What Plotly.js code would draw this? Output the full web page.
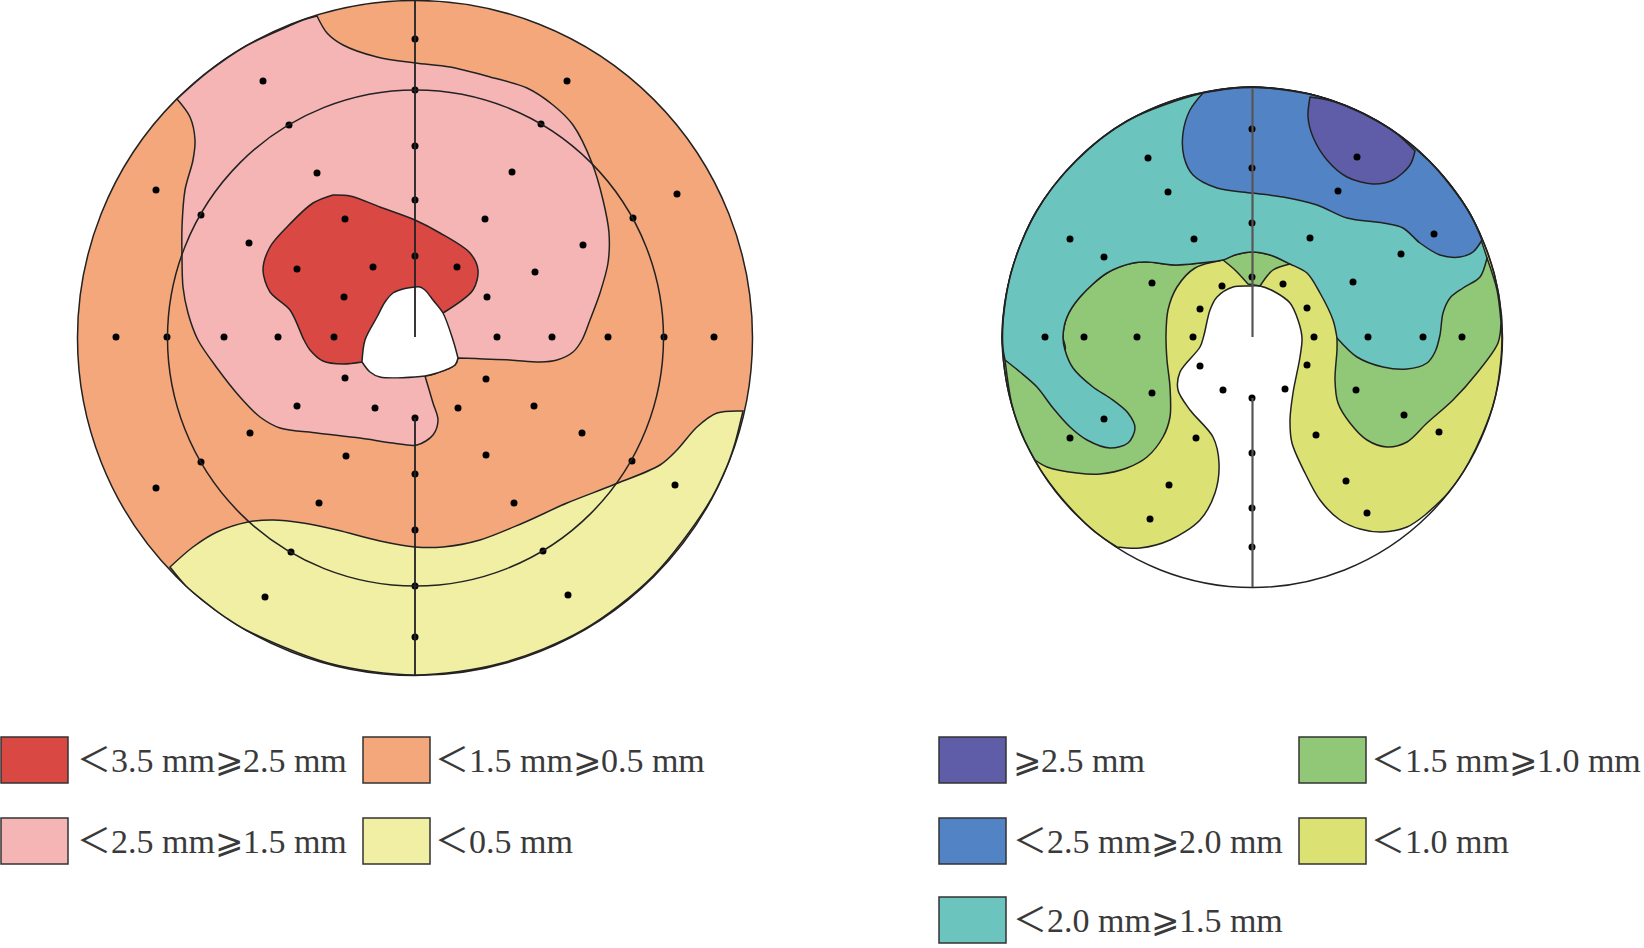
<!DOCTYPE html>
<html><head><meta charset="utf-8">
<script src="https://cdn.plot.ly/plotly-3.0.1.min.js"></script>
<style>html,body{margin:0;padding:0;background:#fff}#c{width:1644px;height:948px}</style>
</head><body><div id="c"></div>
<script>
// Contour outlines, in reference pixel units [x, y].
// A vertex listed twice is a sharp corner of the contour.
const leftYellow = [[743,411],[743,411],[735,443],[727,466],[707,506],[653,576],[583,630],[502,663],[415,675],[328,663],[246,630],[225,617],[205,602],[186,586],[170,567],[170,567],[193,547],[217,532],[248,522],[273,520],[303,523],[337,530],[380,541],[415,547],[443,547],[480,540],[523,523],[567,503],[613,485],[660,465],[677,450],[697,427],[717,413]];
const leftPink = [[177,99],[177,99],[208,72],[246,46],[289,26],[303,20],[317,16],[317,16],[327,33],[343,45],[377,57],[415,63],[450,67],[490,77],[527,88],[553,105],[573,125],[592,163],[603,200],[609,233],[608,263],[600,293],[590,320],[582,340],[573,352],[557,360],[540,362],[510,360],[458,358],[458,358],[455,365],[437,373],[425,376],[425,376],[433,403],[438,420],[433,435],[417,445],[393,443],[360,438],[317,433],[280,428],[260,417],[240,397],[217,368],[198,340],[188,313],[183,287],[182,257],[182,227],[185,190],[193,160],[195,140],[190,117]];
const leftRed = [[333,195],[350,196],[380,207],[415,220],[440,233],[470,253],[478,270],[473,290],[443,313],[443,313],[415,335],[362,362],[362,362],[343,364],[323,361],[310,350],[304,340],[290,310],[270,292],[263,270],[270,247],[287,227],[313,203]];
const leftHole = [[415,287],[403,289],[393,293],[385,302],[377,317],[365,340],[362,362],[362,362],[370,372],[380,377],[425,376],[437,373],[455,365],[458,358],[458,358],[453,340],[443,313],[433,300],[425,290],[420,287]];
const leftDotsX = [263,289,317,156,201,345,249,297,373,344,116,167,224,278,334,415,415,415,415,415,567,541,512,677,485,633,583,457,535,487,497,552,608,664,714,345,297,375,250,346,201,156,319,291,265,415,415,415,415,415,486,458,534,582,486,632,675,514,543,568];
const leftDotsY = [81,125,173,190,215,219,243,269,267,297,337,337,337,337,337,39,90,146,200,256,81,124,172,194,219,218,245,267,272,297,337,337,337,337,337,378,406,408,433,456,462,488,503,552,597,418,474,530,586,637,379,408,406,433,455,461,485,503,551,595];

const rightBase = [[1117,547],[1117,547],[1095,532],[1076,514],[1055,490],[1036,462],[1011,402],[1002,337],[1011,273],[1036,212],[1076,161],[1127,121],[1188,96],[1252,87],[1317,96],[1377,121],[1429,161],[1469,212],[1494,273],[1502,337],[1494,402],[1469,462],[1448,493],[1425,515],[1425,515],[1407,527],[1382,532],[1360,529],[1340,520],[1320,500],[1305,473],[1292,443],[1290,420],[1293,393],[1300,357],[1302,338],[1298,320],[1290,303],[1275,292],[1260,286],[1252,286],[1233,287],[1217,297],[1210,310],[1204,335],[1200,347],[1180,372],[1178,390],[1190,410],[1213,437],[1219,463],[1215,493],[1200,520],[1170,540],[1140,548]];
const rightGreenLeft = [[1035,460],[1035,460],[1047,467],[1077,473],[1100,474],[1127,468],[1147,457],[1163,437],[1170,417],[1170,387],[1167,360],[1166,335],[1168,310],[1177,287],[1195,268],[1223,260],[1223,260],[1200,263],[1177,265],[1147,262],[1133,263],[1107,273],[1080,297],[1067,317],[1063,337],[1065,350],[1040,360],[1005,360],[1005,360],[1012,405],[1022,435]];
const rightGreenCap = [[1223,260],[1223,260],[1235,255],[1252,252],[1270,255],[1290,264],[1290,264],[1273,270],[1260,286],[1260,286],[1248,284],[1248,284],[1235,270]];
const rightGreenRight = [[1487,258],[1487,258],[1497,290],[1501,322],[1501,322],[1498,343],[1477,373],[1453,400],[1427,423],[1407,442],[1387,447],[1367,440],[1350,423],[1338,403],[1335,380],[1337,350],[1337,338],[1337,338],[1400,300]];
const rightTeal = [[1487,258],[1487,258],[1480,277],[1463,288],[1450,298],[1443,313],[1440,335],[1435,352],[1427,363],[1407,369],[1383,367],[1357,357],[1337,338],[1337,338],[1333,320],[1320,293],[1307,273],[1290,264],[1270,255],[1252,252],[1235,255],[1223,260],[1200,263],[1177,265],[1147,262],[1133,263],[1107,273],[1080,297],[1067,317],[1063,337],[1065,350],[1073,368],[1093,387],[1110,398],[1128,413],[1135,428],[1128,443],[1110,448],[1087,440],[1070,427],[1053,408],[1037,387],[1020,372],[1005,360],[1005,360],[1002,337],[1011,273],[1036,212],[1076,161],[1127,121],[1203,93],[1252,87],[1317,96],[1377,121],[1429,161],[1469,212]];
const rightBlue = [[1203,93],[1203,93],[1190,110],[1183,133],[1184,157],[1193,175],[1217,188],[1252,193],[1283,197],[1317,205],[1347,218],[1383,223],[1403,228],[1420,243],[1440,255],[1460,257],[1473,252],[1482,240],[1482,240],[1469,212],[1429,161],[1377,121],[1317,96],[1252,87],[1228,89]];
const rightPurple = [[1310,97],[1310,97],[1308,117],[1313,137],[1327,160],[1347,177],[1373,184],[1393,180],[1410,165],[1415,151],[1415,151],[1397,134],[1377,121],[1346,106],[1328,100]];
const rightDotsX = [1252,1252,1148,1168,1252,1070,1194,1104,1152,1252,1222,1200,1045,1084,1137,1193,1357,1338,1434,1310,1401,1353,1283,1307,1314,1368,1423,1462,1200,1223,1252,1152,1104,1070,1196,1252,1169,1252,1150,1252,1307,1285,1356,1404,1439,1316,1346,1367];
const rightDotsY = [129,168,158,192,223,239,239,257,283,277,286,309,337,337,337,337,157,191,234,238,254,282,284,308,337,337,337,337,366,390,398,393,419,438,438,453,485,508,519,547,365,389,390,415,432,435,481,513];

// Legend
const leftLabels = ['＜3.5 mm⩾2.5 mm','＜2.5 mm⩾1.5 mm','＜1.5 mm⩾0.5 mm','＜0.5 mm'];
const leftColors = ['#D94843','#F6B5B5','#F5A77C','#F0EFA3'];
const rightLabels = ['⩾2.5 mm','＜2.5 mm⩾2.0 mm','＜2.0 mm⩾1.5 mm','＜1.5 mm⩾1.0 mm','＜1.0 mm'];
const rightColors = ['#5F5CA8','#5283C4','#6CC4BE','#90C878','#DBE173'];

const INK = '#222';
function region(pts, color){
  return {x: pts.map(p=>p[0]).concat([pts[0][0],pts[0][0]]), y: pts.map(p=>p[1]).concat([pts[0][1],pts[0][1]]),
    mode:'lines', fill:'toself', fillcolor:color,
    line:{color:INK,width:1.5,shape:'spline',smoothing:0.9,simplify:false}, hoverinfo:'skip'};
}
function dots(x,y){ return {x,y,mode:'markers',marker:{color:'#000',size:7},hoverinfo:'skip'}; }
function vline(x,y0,y1,c,w){ return {type:'line',xref:'x',yref:'y',x0:x,x1:x,y0,y1,line:{color:c,width:w}}; }
function circle(cx,cy,r,fill,w,layer){
  return {type:'circle',xref:'x',yref:'y',x0:cx-r,x1:cx+r,y0:cy-r,y1:cy+r,
    fillcolor:fill,line:{color:INK,width:w},layer:layer||'above'};
}

const traces = [
  region(leftYellow,leftColors[3]),
  region(leftPink,leftColors[1]),
  region(leftRed,leftColors[0]),
  region(leftHole,'#ffffff'),
  region(rightBase,rightColors[4]),
  region(rightGreenLeft,rightColors[3]),
  region(rightGreenCap,rightColors[3]),
  region(rightGreenRight,rightColors[3]),
  region(rightTeal,rightColors[2]),
  region(rightBlue,rightColors[1]),
  region(rightPurple,rightColors[0]),
  dots(leftDotsX,leftDotsY),
  dots(rightDotsX,rightDotsY)
];

const shapes = [
  circle(415,338,337.5,leftColors[2],1.5,'below'),
  circle(415.5,338,248,'rgba(0,0,0,0)',1.5),
  circle(1252.5,337.5,250,'rgba(0,0,0,0)',1.5),
  vline(415,0,337,INK,1.8), vline(415,418,676,INK,1.8),
  vline(1252.5,88,337,'#5a5555',2.2), vline(1252.5,398,587,'#5a5555',2.2)
];
const annotations = [];
function legendItem(x,yTop,h,color,label,tx){
  shapes.push({type:'rect',xref:'x',yref:'y',x0:x,x1:x+67,y0:yTop,y1:yTop+h,fillcolor:color,line:{color:'#333',width:1.5}});
  annotations.push({x:tx,y:yTop+h/2,xref:'x',yref:'y',text:label,showarrow:false,xanchor:'left',yanchor:'middle',
    font:{family:'"Liberation Serif","Noto Sans CJK SC","DejaVu Serif",serif',size:34,color:'#3a3a3a'}});
}
const rowsY = [737,818,897];
leftLabels.forEach((t,i)=>{ legendItem(i<2?1:363, rowsY[i%2], 46, leftColors[i], t, i<2?75:433); });
rightLabels.forEach((t,i)=>{ const col=i<3?0:1; const row=col?i-3:i; legendItem(col?1299:939, rowsY[row], 46, rightColors[i], t, col?1369:1011); });

Plotly.newPlot('c', traces, {
  width:1644,height:948,margin:{l:0,r:0,t:0,b:0},showlegend:false,hovermode:false,
  paper_bgcolor:'#fff',plot_bgcolor:'#fff',
  xaxis:{range:[0,1644],visible:false,fixedrange:true},
  yaxis:{range:[948,0],visible:false,fixedrange:true},
  shapes,annotations
},{displayModeBar:false,staticPlot:true});
</script></body></html>
